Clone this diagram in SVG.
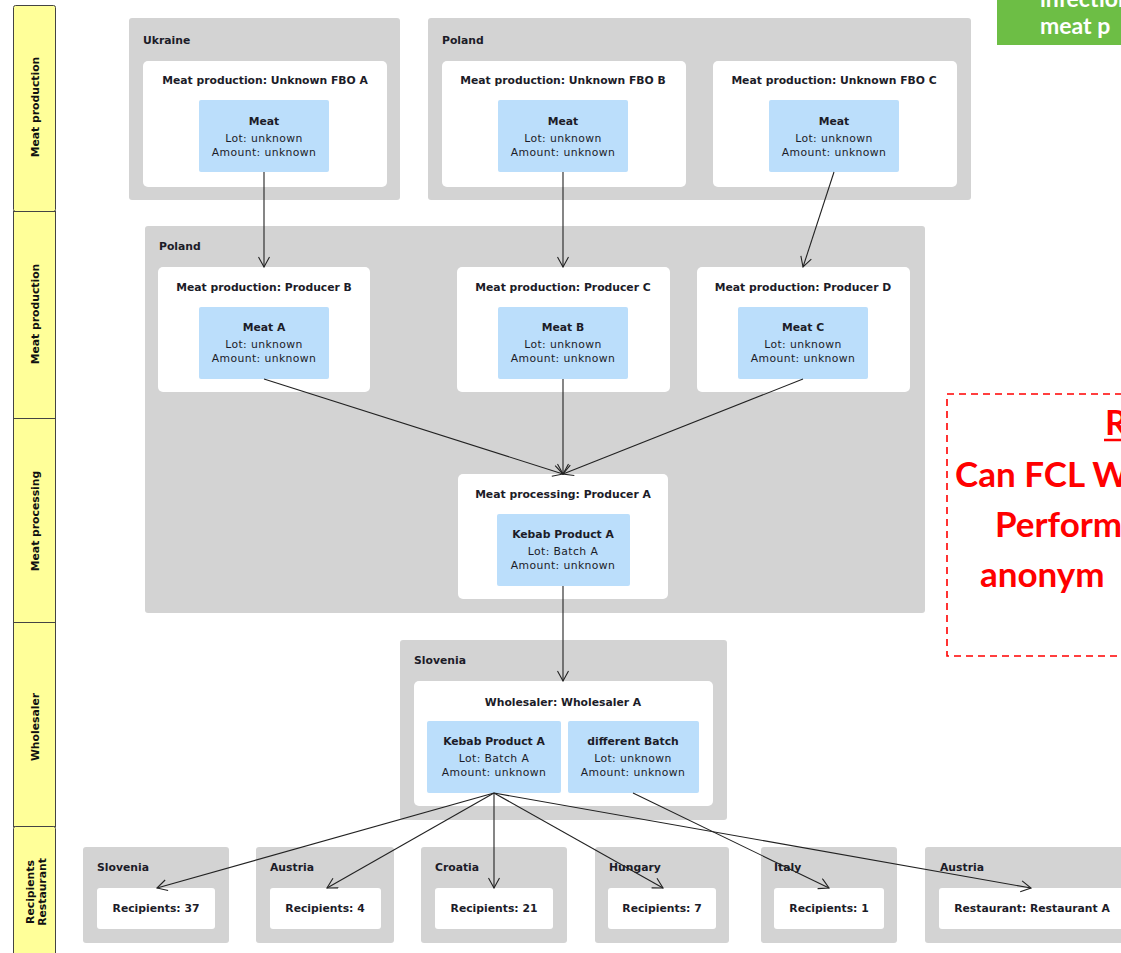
<svg xmlns="http://www.w3.org/2000/svg" width="1121" height="953" viewBox="0 0 1121 953">
  <defs>
    <marker id="arrow" markerUnits="userSpaceOnUse" markerWidth="12" markerHeight="14" refX="11" refY="6" orient="auto">
      <path d="M1,0.5 L11,6 L1,11.5" fill="none" stroke="#222" stroke-width="1.1"/>
    </marker>
  </defs>
  <style>
    .lane { fill: #ffff99; stroke: #444; stroke-width: 1; }
    .lanetxt { font-family: "DejaVu Sans", Verdana, sans-serif; font-size: 10.8px; font-weight: bold; fill: #111; text-anchor: middle; }
    .area { fill: #d3d3d3; }
    .station { fill: #ffffff; }
    .lot { fill: #bbdefb; }
    .lbl { font-family: "DejaVu Sans", Verdana, sans-serif; font-size: 10.8px; font-weight: bold; fill: #1c1c28; }
    .ttl { font-family: "DejaVu Sans", Verdana, sans-serif; font-size: 10.8px; font-weight: bold; fill: #1c1c28; text-anchor: middle; }
    .sub { font-family: "DejaVu Sans", Verdana, sans-serif; font-size: 10.8px; letter-spacing: 0.4px; fill: #1c1c28; text-anchor: middle; }
    .edge { fill: none; stroke: #222; stroke-width: 1.1; marker-end: url(#arrow); }
    .note { font-family: Lato, "Liberation Sans", sans-serif; font-weight: bold; fill: #ff0000; font-size: 35px; }
  </style>

  <!-- swimlane headers -->
  <g id="lanes">
    <rect class="lane" x="13.5" y="5.5" width="42" height="206" rx="2"/>
    <rect class="lane" x="13.5" y="211.5" width="42" height="207"/>
    <rect class="lane" x="13.5" y="418.5" width="42" height="204"/>
    <rect class="lane" x="13.5" y="622.5" width="42" height="204"/>
    <rect class="lane" x="13.5" y="826.5" width="42" height="140" rx="2"/>
    <text class="lanetxt" transform="translate(39,107) rotate(-90)">Meat production</text>
    <text class="lanetxt" transform="translate(39,314) rotate(-90)">Meat production</text>
    <text class="lanetxt" transform="translate(39,521) rotate(-90)">Meat processing</text>
    <text class="lanetxt" transform="translate(39,727) rotate(-90)">Wholesaler</text>
    <text class="lanetxt" transform="translate(34,892) rotate(-90)">Recipients</text>
    <text class="lanetxt" transform="translate(46,892) rotate(-90)">Restaurant</text>
  </g>

  <!-- callouts at the right edge -->
  <g id="note-green">
    <rect x="997" y="0" width="130" height="45" fill="#6dbe45"/>
    <text x="1040" y="7" font-family="Lato, 'Liberation Sans', sans-serif" font-weight="bold" font-size="23" fill="#ffffff">infection</text>
    <text x="1040" y="34" font-family="Lato, 'Liberation Sans', sans-serif" font-weight="bold" font-size="23" fill="#ffffff">meat p</text>
  </g>
  <g id="note-red">
    <rect x="947" y="394" width="200" height="262" fill="none" stroke="#ff0000" stroke-width="1.6" stroke-dasharray="7 5"/>
    <text class="note" x="1105" y="435">R</text>
    <line x1="1104" y1="440" x2="1130" y2="440" stroke="#ff0000" stroke-width="2.5"/>
    <text class="note" x="955" y="487">Can FCL W</text>
    <text class="note" x="995" y="537">Perform</text>
    <text class="note" x="980" y="587">anonym</text>
  </g>

  <!-- lane 1: meat production (origin countries) -->
  <g id="area-ukraine">
    <rect class="area" x="129" y="18" width="271" height="182" rx="3"/>
    <text class="lbl" x="143" y="44">Ukraine</text>
  </g>
  <g id="fbo-a">
    <rect class="station" x="143" y="61" width="244" height="126" rx="5"/>
    <text class="ttl" x="265" y="84">Meat production: Unknown FBO A</text>
    <rect class="lot" x="199" y="100" width="130" height="72" rx="2"/>
    <text class="ttl" x="264" y="125">Meat</text>
    <text class="sub" x="264" y="142">Lot: unknown</text>
    <text class="sub" x="264" y="156">Amount: unknown</text>
  </g>
  <g id="area-poland-1">
    <rect class="area" x="428" y="18" width="543" height="182" rx="3"/>
    <text class="lbl" x="442" y="44">Poland</text>
  </g>
  <g id="fbo-b">
    <rect class="station" x="442" y="61" width="244" height="126" rx="5"/>
    <text class="ttl" x="563" y="84">Meat production: Unknown FBO B</text>
    <rect class="lot" x="498" y="100" width="130" height="72" rx="2"/>
    <text class="ttl" x="563" y="125">Meat</text>
    <text class="sub" x="563" y="142">Lot: unknown</text>
    <text class="sub" x="563" y="156">Amount: unknown</text>
  </g>
  <g id="fbo-c">
    <rect class="station" x="713" y="61" width="244" height="126" rx="5"/>
    <text class="ttl" x="834" y="84">Meat production: Unknown FBO C</text>
    <rect class="lot" x="769" y="100" width="130" height="72" rx="2"/>
    <text class="ttl" x="834" y="125">Meat</text>
    <text class="sub" x="834" y="142">Lot: unknown</text>
    <text class="sub" x="834" y="156">Amount: unknown</text>
  </g>

  <!-- lanes 2-3: producers and processing in Poland -->
  <g id="area-poland-2">
    <rect class="area" x="145" y="226" width="780" height="387" rx="3"/>
    <text class="lbl" x="159" y="250">Poland</text>
  </g>
  <g id="producer-b">
    <rect class="station" x="158" y="267" width="212" height="125" rx="5"/>
    <text class="ttl" x="264" y="291">Meat production: Producer B</text>
    <rect class="lot" x="199" y="307" width="130" height="72" rx="2"/>
    <text class="ttl" x="264" y="331">Meat A</text>
    <text class="sub" x="264" y="348">Lot: unknown</text>
    <text class="sub" x="264" y="362">Amount: unknown</text>
  </g>
  <g id="producer-c">
    <rect class="station" x="457" y="267" width="213" height="125" rx="5"/>
    <text class="ttl" x="563" y="291">Meat production: Producer C</text>
    <rect class="lot" x="498" y="307" width="130" height="72" rx="2"/>
    <text class="ttl" x="563" y="331">Meat B</text>
    <text class="sub" x="563" y="348">Lot: unknown</text>
    <text class="sub" x="563" y="362">Amount: unknown</text>
  </g>
  <g id="producer-d">
    <rect class="station" x="697" y="267" width="213" height="125" rx="5"/>
    <text class="ttl" x="803" y="291">Meat production: Producer D</text>
    <rect class="lot" x="738" y="307" width="130" height="72" rx="2"/>
    <text class="ttl" x="803" y="331">Meat C</text>
    <text class="sub" x="803" y="348">Lot: unknown</text>
    <text class="sub" x="803" y="362">Amount: unknown</text>
  </g>
  <g id="producer-a">
    <rect class="station" x="458" y="474" width="210" height="125" rx="5"/>
    <text class="ttl" x="563" y="498">Meat processing: Producer A</text>
    <rect class="lot" x="497" y="514" width="133" height="72" rx="2"/>
    <text class="ttl" x="563" y="538">Kebab Product A</text>
    <text class="sub" x="563" y="555">Lot: Batch A</text>
    <text class="sub" x="563" y="569">Amount: unknown</text>
  </g>

  <!-- lane 4: wholesaler -->
  <g id="area-slovenia">
    <rect class="area" x="400" y="640" width="327" height="180" rx="3"/>
    <text class="lbl" x="414" y="664">Slovenia</text>
  </g>
  <g id="wholesaler-a">
    <rect class="station" x="414" y="681" width="299" height="125" rx="5"/>
    <text class="ttl" x="563" y="706">Wholesaler: Wholesaler A</text>
    <rect class="lot" x="427" y="721" width="134" height="72" rx="2"/>
    <text class="ttl" x="494" y="745">Kebab Product A</text>
    <text class="sub" x="494" y="762">Lot: Batch A</text>
    <text class="sub" x="494" y="776">Amount: unknown</text>
    <rect class="lot" x="568" y="721" width="131" height="72" rx="2"/>
    <text class="ttl" x="633" y="745">different Batch</text>
    <text class="sub" x="633" y="762">Lot: unknown</text>
    <text class="sub" x="633" y="776">Amount: unknown</text>
  </g>

  <!-- lane 5: recipients -->
  <g id="recipients-slovenia">
    <rect class="area" x="83" y="847" width="146" height="96" rx="3"/>
    <text class="lbl" x="97" y="871">Slovenia</text>
    <rect class="station" x="97" y="888" width="118" height="41" rx="3"/>
    <text class="ttl" x="156" y="912">Recipients: 37</text>
  </g>
  <g id="recipients-austria">
    <rect class="area" x="256" y="847" width="138" height="96" rx="3"/>
    <text class="lbl" x="270" y="871">Austria</text>
    <rect class="station" x="270" y="888" width="111" height="41" rx="3"/>
    <text class="ttl" x="325" y="912">Recipients: 4</text>
  </g>
  <g id="recipients-croatia">
    <rect class="area" x="421" y="847" width="146" height="96" rx="3"/>
    <text class="lbl" x="435" y="871">Croatia</text>
    <rect class="station" x="435" y="888" width="118" height="41" rx="3"/>
    <text class="ttl" x="494" y="912">Recipients: 21</text>
  </g>
  <g id="recipients-hungary">
    <rect class="area" x="595" y="847" width="134" height="96" rx="3"/>
    <text class="lbl" x="609" y="871">Hungary</text>
    <rect class="station" x="608" y="888" width="108" height="41" rx="3"/>
    <text class="ttl" x="662" y="912">Recipients: 7</text>
  </g>
  <g id="recipients-italy">
    <rect class="area" x="761" y="847" width="136" height="96" rx="3"/>
    <text class="lbl" x="774" y="871">Italy</text>
    <rect class="station" x="774" y="888" width="110" height="41" rx="3"/>
    <text class="ttl" x="829" y="912">Recipients: 1</text>
  </g>
  <g id="restaurant-austria">
    <rect class="area" x="925" y="847" width="214" height="96" rx="3"/>
    <text class="lbl" x="940" y="871">Austria</text>
    <rect class="station" x="939" y="888" width="186" height="41" rx="3"/>
    <text class="ttl" x="1032" y="912">Restaurant: Restaurant A</text>
  </g>

  <!-- deliveries -->
  <g id="connectors">
    <line class="edge" x1="264" y1="172" x2="264" y2="267"/>
    <line class="edge" x1="563" y1="172" x2="563" y2="267"/>
    <line class="edge" x1="834" y1="172" x2="803" y2="267"/>
    <line class="edge" x1="264" y1="379" x2="563" y2="474"/>
    <line class="edge" x1="563" y1="379" x2="563" y2="474"/>
    <line class="edge" x1="803" y1="379" x2="563" y2="474"/>
    <line class="edge" x1="563" y1="586" x2="563" y2="681"/>
    <line class="edge" x1="494" y1="793" x2="157" y2="888"/>
    <line class="edge" x1="494" y1="793" x2="327" y2="888"/>
    <line class="edge" x1="494" y1="793" x2="494" y2="888"/>
    <line class="edge" x1="494" y1="793" x2="663" y2="888"/>
    <line class="edge" x1="494" y1="793" x2="1031" y2="888"/>
    <line class="edge" x1="633" y1="793" x2="829" y2="888"/>
  </g>
</svg>
